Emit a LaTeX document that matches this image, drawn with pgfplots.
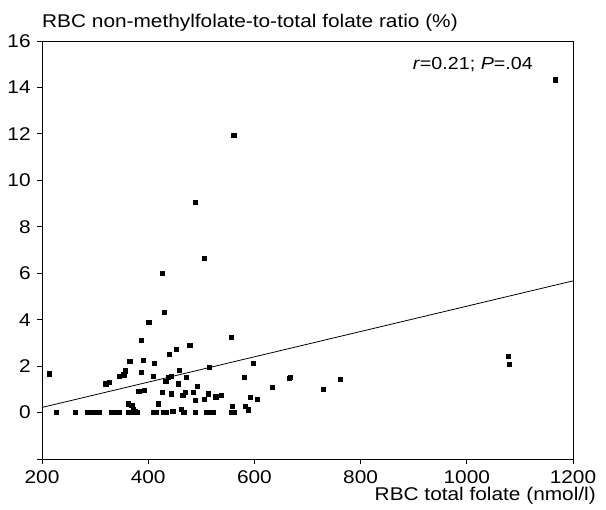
\documentclass[border=0pt]{standalone}
\usepackage{fontspec}
\setmainfont{Liberation Sans}[FakeStretch=1.13]
\usepackage{pgfplots}
\pgfplotsset{compat=1.18}
\begin{document}
\fontsize{18.5}{22}\selectfont
\begin{tikzpicture}
\useasboundingbox (0,0) rectangle (606bp,510bp);
\begin{axis}[
  at={(42bp,51bp)}, anchor=south west,
  scale only axis, width=531bp, height=418bp,
  xmin=200, xmax=1200, ymin=-2, ymax=16,
  xtick={200,400,600,800,1000,1200},
  ytick={-2,0,2,4,6,8,10,12,14,16},
  yticklabels={{},0,2,4,6,8,10,12,14,16},
  xtick pos=lower, ytick pos=left,
  tick align=outside, major tick length=5bp,
  axis line style={line width=0.9bp},
  every tick/.style={black, line width=0.8bp},
  /pgf/number format/assume math mode=true,
  /pgf/number format/1000 sep={},
  tick label style={font=\fontsize{18.5}{22}\selectfont},
  clip=false,
]
\addplot[only marks, mark=square*, mark size=2.1bp, black] coordinates {
(213,1.67) (226,0) (263,0) (285,0) (295,0) (301,0) (308,0) (330,0) (337,0) (346,0)
(362,0) (368,0) (374,0) (380,0) (320,1.24) (327,1.30) (346,1.56) (354,1.63) (357,1.80)
(365,2.20) (362,0.38) (369,0.30) (372,0.16) (376,0.04) (382,0.91) (393,0.95) (387,1.73)
(387,3.12) (391,2.25) (401,3.90) (409,0) (414,0) (410,1.56) (412,2.11) (419,0.38)
(426,6.00) (428,0) (434,0) (426,0.87) (430,4.33) (433,1.34) (437,1.53) (440,2.50)
(443,1.56) (443,0.81) (446,0.07) (453,2.74) (457,1.24) (459,1.83) (462,0.16) (465,0.76)
(470,0.87) (467,0) (471,1.52) (478,2.91) (485,0.87) (489,0.53) (488,0) (492,1.13)
(506,0.59) (505,6.65) (510,0) (517,0) (523,0) (513,0.81) (515,1.95) (527,0.68) (537,0.75)
(556,3.23) (557,0) (562,0) (558,0.26) (581,1.52) (582,0.26) (589,0.12) (592,0.65)
(597,2.11) (605,0.59) (633,1.08) (665,1.49) (667,1.53) (488,9.06) (561,11.93)
(1166,14.33) (730,1.00) (762,1.44) (1078,2.44) (1080,2.08)
};
\addplot[black, line width=0.8bp] coordinates {(200,0.22) (1200,5.67)};
\node[anchor=base west, inner sep=0pt] at (rel axis cs:0,1) [yshift=13bp] {RBC non-methylfolate-to-total folate ratio (\%)};
\node[anchor=base east, inner sep=0pt] at (rel axis cs:1,0) [xshift=23bp, yshift=-41bp] {RBC total folate (nmol/l)};
\node[anchor=base east, inner sep=0pt, font=\fontsize{17.5}{21}\selectfont] at (rel axis cs:0.9247,0.933) {\textit{r}=0.21; \textit{P}=.04};
\end{axis}
\end{tikzpicture}
\end{document}
